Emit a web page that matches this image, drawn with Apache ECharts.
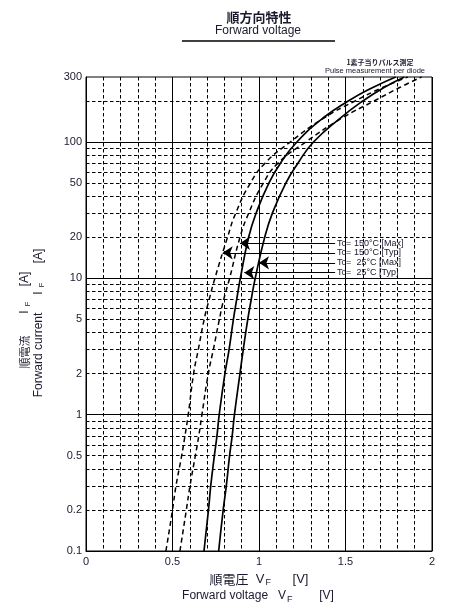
<!DOCTYPE html>
<html><head><meta charset="utf-8">
<script src="https://cdn.jsdelivr.net/npm/echarts@6/dist/echarts.min.js"></script>
<style>html,body{margin:0;padding:0;background:#fff}#c{width:450px;height:615px}</style>
</head><body><div id="c"></div>
<script>
// ---- data ----
const currents   = [0.1, 0.2, 0.3, 0.5, 0.7, 1, 2, 3, 5, 7, 10, 20, 30, 50, 70, 100, 150, 200, 250, 300];
const vf25Typ    = [0.682,0.708,0.721,0.742,0.757,0.770,0.803,0.827,0.852,0.871,0.892,0.940,0.983,1.057,1.124,1.219,1.370,1.516,1.655,1.79];
const vf25Max    = [0.767,0.793,0.811,0.830,0.845,0.858,0.890,0.909,0.935,0.955,0.978,1.033,1.077,1.155,1.225,1.315,1.47,1.60,1.72,1.84];
const vf150Typ   = [0.462,0.500,0.520,0.553,0.572,0.591,0.622,0.649,0.683,0.712,0.745,0.818,0.865,0.950,1.035,1.18,1.375,1.555,1.71,1.86];
const vf150Max   = [0.543,0.580,0.601,0.632,0.652,0.670,0.707,0.736,0.771,0.796,0.830,0.890,0.940,1.025,1.11,1.27,1.48,1.665,1.81,1.94];

const yLabelValues = [0.1, 0.2, 0.5, 1, 2, 5, 10, 20, 50, 100, 300];
const yMajorGrid   = [1, 10, 100];
const yMinorGrid   = [0.2,0.3,0.4,0.5,0.6,0.7,0.8,0.9, 2,3,4,5,6,7,8,9, 20,30,40,50,60,70,80,90, 200];

const legendLabels  = ['Tc= 150°C [Max]', 'Tc= 150°C [Typ]', 'Tc=  25°C [Max]', 'Tc=  25°C [Typ]'];
const arrowCurrents = [18.1, 15.4, 13.0, 11.0];
const arrowTipV     = [0.89, 0.79, 1.0, 0.915];
const arrowEndV     = 1.44;

// ---- chart ----
const LAT = '"Liberation Sans", Arial, sans-serif';
const JP = '"Noto Sans CJK JP", sans-serif';
const TXT = '#1a1a2e';
const dashGrid = [3.5, 2.5];

const chart = echarts.init(document.getElementById('c'), null, {renderer: 'canvas'});

function curve(vals, dashed) {
  return {
    type: 'line', data: currents.map((c, i) => [vals[i], c]),
    showSymbol: false, smooth: 0.5, z: 5, silent: true,
    lineStyle: {color: '#000', width: dashed ? 1.5 : 1.7, type: dashed ? [5, 3.5] : 'solid'}
  };
}
function vText(text, x, y, font) {
  return {type: 'text', x: x, y: y, rotation: Math.PI / 2,
    style: {text: text, font: font, fill: TXT, textAlign: 'center', textVerticalAlign: 'middle'}};
}

const option = {
  animation: false,
  backgroundColor: '#fff',
  grid: {left: 86, right: 18, top: 77, bottom: 64, show: true, borderColor: '#000', borderWidth: 1, backgroundColor: 'transparent'},
  xAxis: {
    type: 'value', min: 0, max: 2, interval: 0.5,
    axisLine: {show: true, lineStyle: {color: '#000', width: 1}},
    axisTick: {show: false},
    splitLine: {show: true, lineStyle: {color: '#000', width: 1}},
    minorTick: {show: false, splitNumber: 5},
    minorSplitLine: {show: true, lineStyle: {color: '#000', width: 1, type: dashGrid}},
    axisLabel: {fontSize: 11, color: TXT, margin: 5, fontFamily: LAT, formatter: v => String(+v.toFixed(2))}
  },
  yAxis: {
    type: 'log', logBase: 10, min: 0.1, max: 300,
    axisLine: {show: true, lineStyle: {color: '#000', width: 1}},
    axisTick: {show: false},
    splitLine: {show: false},
    axisLabel: {customValues: yLabelValues, fontSize: 11, color: TXT, margin: 4, fontFamily: LAT,
      formatter: v => String(+(+v).toPrecision(6))}
  },
  series: [
    {
      type: 'line', data: [], z: 1, silent: true,
      markLine: {
        silent: true, symbol: 'none', animation: false, label: {show: false},
        data: yMinorGrid.map(v => ({yAxis: v, lineStyle: {color: '#000', width: 1, type: dashGrid}}))
          .concat(yMajorGrid.map(v => ({yAxis: v, lineStyle: {color: '#000', width: 1, type: 'solid'}})))
      }
    },
    curve(vf25Typ, false),
    curve(vf25Max, false),
    curve(vf150Typ, true),
    curve(vf150Max, true),
    {
      type: 'line', data: [], z: 6, silent: true,
      markLine: {
        silent: true, animation: false, symbol: ['arrow', 'none'], symbolSize: 10,
        lineStyle: {color: '#000', width: 1, type: 'solid'},
        label: {show: true, position: 'end', distance: 2, formatter: p => p.name, color: TXT, fontSize: 9, fontFamily: LAT},
        data: arrowCurrents.map((c, i) => [
          {coord: [arrowTipV[i], c], name: legendLabels[i]},
          {coord: [arrowEndV, c]}
        ])
      }
    }
  ],
  graphic: [
    {type: 'text', x: 259, y: 17, style: {text: '順方向特性', font: 'bold 13px ' + JP, fill: TXT, textAlign: 'center', textVerticalAlign: 'middle'}},
    {type: 'text', x: 258, y: 31, style: {text: 'Forward voltage', font: '12px ' + LAT, fill: TXT, textAlign: 'center', textVerticalAlign: 'middle'}},
    {type: 'line', shape: {x1: 182, y1: 41, x2: 335, y2: 41}, style: {stroke: '#000', lineWidth: 1.5}},
    {type: 'text', x: 380, y: 62, style: {text: '1素子当りパルス測定', font: 'bold 7px ' + JP, fill: TXT, textAlign: 'center', textVerticalAlign: 'middle'}},
    {type: 'text', x: 375, y: 71, style: {text: 'Pulse measurement per diode', font: '7.5px ' + LAT, fill: TXT, textAlign: 'center', textVerticalAlign: 'middle'}},
    {type: 'text', x: 259, y: 579, style: {
      text: '{j|順電圧}{a|  V}{s|F}{a|      [V]}', textAlign: 'center', textVerticalAlign: 'middle',
      rich: {j: {font: '13px ' + JP, fill: TXT, color: TXT}, a: {font: '13px ' + LAT, color: TXT, fill: TXT}, s: {font: '9px ' + LAT, color: TXT, fill: TXT, padding: [7, 0, 0, 1]}}
    }},
    {type: 'text', x: 258, y: 596, style: {
      text: '{a|Forward voltage   V}{s|F}{a|        [V]}', textAlign: 'center', textVerticalAlign: 'middle',
      rich: {a: {font: '12px ' + LAT, color: TXT, fill: TXT}, s: {font: '9px ' + LAT, color: TXT, fill: TXT, padding: [7, 0, 0, 1]}}
    }},
    // y-axis title, Japanese line
    vText('順電流', 25, 352, '11px ' + JP),
    vText('I', 25, 312, '12px ' + LAT),
    vText('F', 28, 304, '8px ' + LAT),
    vText('[A]', 25, 279, '12px ' + LAT),
    // y-axis title, English line
    vText('Forward current', 39, 355, '12px ' + LAT),
    vText('I', 39, 293, '12px ' + LAT),
    vText('F', 42, 285, '8px ' + LAT),
    vText('[A]', 39, 256, '12px ' + LAT)
  ]
};
chart.setOption(option);
</script>
</body></html>
